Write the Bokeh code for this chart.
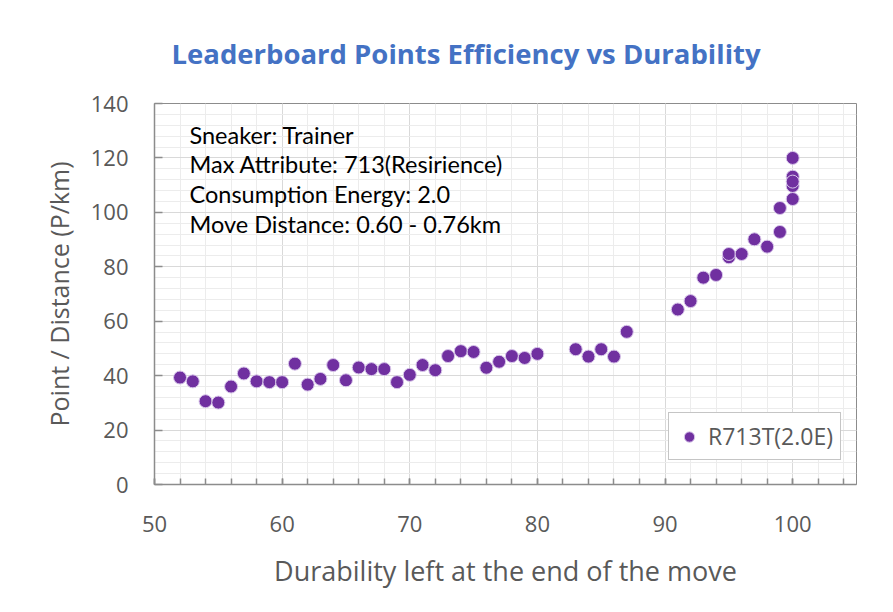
from bokeh.plotting import figure
from bokeh.models import (Range1d, SingleIntervalTicker, Label, Legend, LegendItem,
                          ColumnDataSource, Title)
from bokeh.embed import file_html
from bokeh.resources import INLINE

# ---- data ----
durability = [52, 53, 54, 55, 56, 57, 58, 59, 60, 61, 62, 63, 64, 65, 66, 67, 68, 69, 70,
              71, 72, 73, 74, 75, 76, 77, 78, 79, 80, 83, 84, 85, 86, 87,
              91, 92, 93, 94, 95, 95, 96, 97, 98, 99, 99,
              100, 100, 100, 100, 100]
points_per_km = [39.3, 37.9, 30.6, 30.1, 36.0, 40.8, 37.9, 37.6, 37.6, 44.4, 36.7, 38.8, 43.9,
                 38.3, 43.0, 42.4, 42.4, 37.6, 40.3, 43.9, 42.0, 47.2, 49.0, 48.7, 42.9, 45.1,
                 47.2, 46.5, 48.0, 49.7, 47.0, 49.7, 47.0, 56.1,
                 64.3, 67.4, 76.0, 77.0, 83.5, 84.7, 84.7, 90.1, 87.4, 92.8, 101.6,
                 120.0, 113.1, 109.7, 104.9, 111.3]
series_name = "R713T(2.0E)"
title_text = "Leaderboard Points Efficiency vs Durability"
x_label = "Durability left at the end of the move"
y_label = "Point / Distance (P/km)"
info_lines = ["Sneaker: Trainer",
              "Max Attribute: 713(Resirience)",
              "Consumption Energy: 2.0",
              "Move Distance: 0.60 - 0.76km"]

GRAY = "#595959"
FONT = "Open Sans"

p = figure(width=877, height=596, output_backend="svg", toolbar_location=None,
           x_range=Range1d(50, 105), y_range=Range1d(0, 140),
           min_border_left=154, min_border_right=21, min_border_top=98, min_border_bottom=112,
           title=None)
p.background_fill_color = "white"
p.border_fill_color = "white"
p.outline_line_color = "#8c8c8c"
p.outline_line_width = 1

t = Title(text=title_text, align="left", offset=17, text_font=FONT, text_font_size="27.5px",
          text_font_style="bold", text_color="#4472C4", standoff=64)
p.add_layout(t, "above")

# axes
p.xaxis.ticker = SingleIntervalTicker(interval=10, num_minor_ticks=5)
p.yaxis.ticker = SingleIntervalTicker(interval=20, num_minor_ticks=5)
for ax in (p.xaxis[0], p.yaxis[0]):
    ax.axis_line_color = "#8c8c8c"
    ax.axis_line_width = 1.5
    ax.major_tick_line_color = "#8c8c8c"
    ax.major_tick_line_width = 1.5
    ax.major_tick_out = 0
    ax.minor_tick_out = 0
    ax.major_label_text_font = FONT
    ax.major_label_text_font_size = "22px"
    ax.major_label_text_color = GRAY
    ax.axis_label_text_font = FONT
    ax.axis_label_text_color = GRAY
    ax.axis_label_text_font_style = "normal"

p.xaxis.axis_label = x_label
p.yaxis.axis_label = y_label
p.xaxis.axis_label_text_font_size = "27px"
p.yaxis.axis_label_text_font_size = "25px"
p.xaxis.major_tick_in = 6
p.xaxis.minor_tick_in = 6
p.xaxis.minor_tick_line_color = "#8c8c8c"
p.xaxis.minor_tick_line_width = 1.5
p.yaxis.major_tick_in = 8
p.yaxis.minor_tick_line_color = None
p.xaxis.major_label_standoff = 31
p.yaxis.major_label_standoff = 26
p.xaxis.axis_label_standoff = 17
p.yaxis.axis_label_standoff = 12

# grid
p.xgrid.grid_line_color = "#d9d9d9"
p.ygrid.grid_line_color = "#d9d9d9"
p.xgrid.minor_grid_line_color = "#ececec"
p.ygrid.minor_grid_line_color = "#ececec"

src = ColumnDataSource(dict(x=durability, y=points_per_km))
r = p.scatter("x", "y", source=src, size=13, fill_color="#7030A0",
              line_color="#d8c6ea", line_width=1)

legend = Legend(items=[LegendItem(label=series_name, renderers=[r])],
                location=(514, 24), margin=0, padding=7, spacing=0,
                glyph_width=26, glyph_height=27, label_standoff=6,
                label_text_font=FONT, label_text_font_size="23px", label_text_color=GRAY,
                border_line_color="#8c8c8c", border_line_width=1,
                background_fill_color="white", background_fill_alpha=1)
p.add_layout(legend, "center")

info = Label(x=35, y=364, x_units="screen", y_units="screen",
             text="\n".join(info_lines), text_font="Lato", text_font_size="23.5px",
             text_color="black", text_align="left", text_baseline="top",
             text_line_height=1.065)
p.add_layout(info)

open("out.html", "w").write(file_html(p, INLINE))
